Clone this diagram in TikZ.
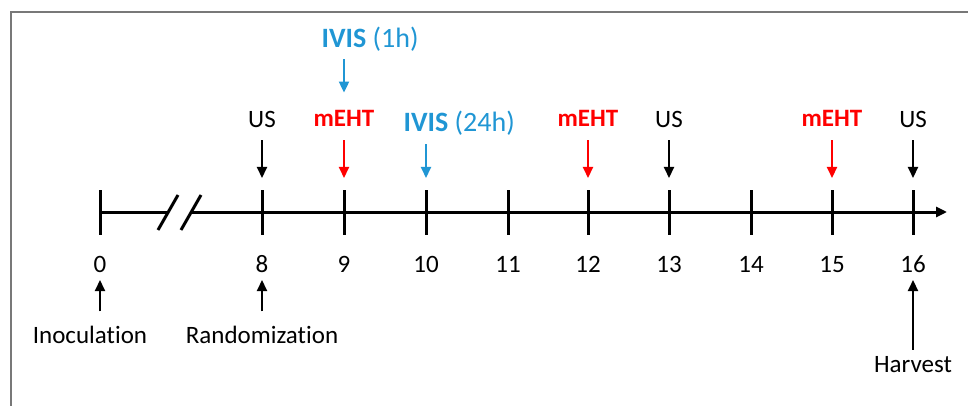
\documentclass[tikz,border=0pt]{standalone}
\usepackage{fontspec}
\setmainfont{Carlito}[Ligatures=NoCommon]
\usetikzlibrary{arrows.meta}
\definecolor{ivisblue}{RGB}{32,150,212}
\definecolor{framegray}{RGB}{120,120,120}
\tikzset{
  lbl/.style={inner sep=0pt, anchor=base, font=\fontsize{25}{25}\selectfont},
  ivis/.style={inner sep=0pt, anchor=base, text=ivisblue, font=\fontsize{28}{28}\selectfont},
  meht/.style={inner sep=0pt, anchor=base, text=red, font=\fontsize{25}{25}\selectfont\bfseries},
  axisline/.style={line width=3pt},
  tickmark/.style={line width=3pt},
  arr/.style={line width=2pt, -{Triangle[length=11pt,width=10pt]}},
}
\begin{document}
\begin{tikzpicture}[x=1pt,y=-1pt]
\useasboundingbox (0,0) rectangle (968,406);
\draw[framegray, line width=1.5pt] (11,406) -- (11,12) -- (968,12);
% ticks
\foreach \n/\x in {0/100,8/262,9/344,10/426,11/508,12/588,13/669,14/751,15/832,16/913}{
  \coordinate (t\n) at (\x,212);
  \draw[tickmark] (\x,190) -- (\x,235);
  \node[lbl] (n\n) at (\x,272) {\n};
}
% axis with break
\coordinate (b1) at (168,212);
\coordinate (b2) at (191,212);
\coordinate (aend) at (947,212);
\draw[axisline] (t0) -- (b1);
\draw[axisline, -{Triangle[length=11pt,width=10pt]}] (b2) -- (aend);
\draw[line width=3pt] (158,230) -- (178,195);
\draw[line width=3pt] (181,230) -- (201,195);
% top labels
\node[lbl] (u8) at (262,128) {US};
\node[lbl] (u13) at (669,128) {US};
\node[lbl] (u16) at (913,128) {US};
\node[meht] (m9) at (344,127) {mEHT};
\node[meht] (m12) at (588,127) {mEHT};
\node[meht] (m15) at (832,127) {mEHT};
\node[ivis] (i1) at (344,48) {\textbf{IVIS}\makebox[0pt][l]{ (1h)}};
\node[ivis] (i10) at (426,132) {\textbf{IVIS}\makebox[0pt][l]{ (24h)}};
% down arrows
\draw[arr, shorten <=12pt] (u8.south) -- ([yshift=34pt]t8);
\draw[arr, shorten <=12pt] (u13.south) -- ([yshift=34pt]t13);
\draw[arr, shorten <=12pt] (u16.south) -- ([yshift=34pt]t16);
\draw[arr, red, shorten <=13pt] (m9.south) -- ([yshift=34pt]t9);
\draw[arr, red, shorten <=13pt] (m12.south) -- ([yshift=34pt]t12);
\draw[arr, red, shorten <=13pt] (m15.south) -- ([yshift=34pt]t15);
\draw[arr, ivisblue, shorten <=8pt] (i10.south) -- ([yshift=34pt]t10);
\draw[arr, ivisblue, shorten <=7pt, shorten >=18pt] (i1.south) -- (m9.north);
% bottom labels
\node[lbl] (inoc) at (90,343) {Inoculation};
\node[lbl] (rand) at (262,343) {Randomization};
\node[lbl] (harv) at (913,372) {Harvest};
\draw[arr] ([yshift=14pt]n0 |- inoc.north) -- ([yshift=-8pt]n0.base);
\draw[arr] ([yshift=14pt]n8 |- rand.north) -- ([yshift=-8pt]n8.base);
\draw[arr] ([yshift=6pt]n16 |- harv.north) -- ([yshift=-8pt]n16.base);
\end{tikzpicture}
\end{document}
